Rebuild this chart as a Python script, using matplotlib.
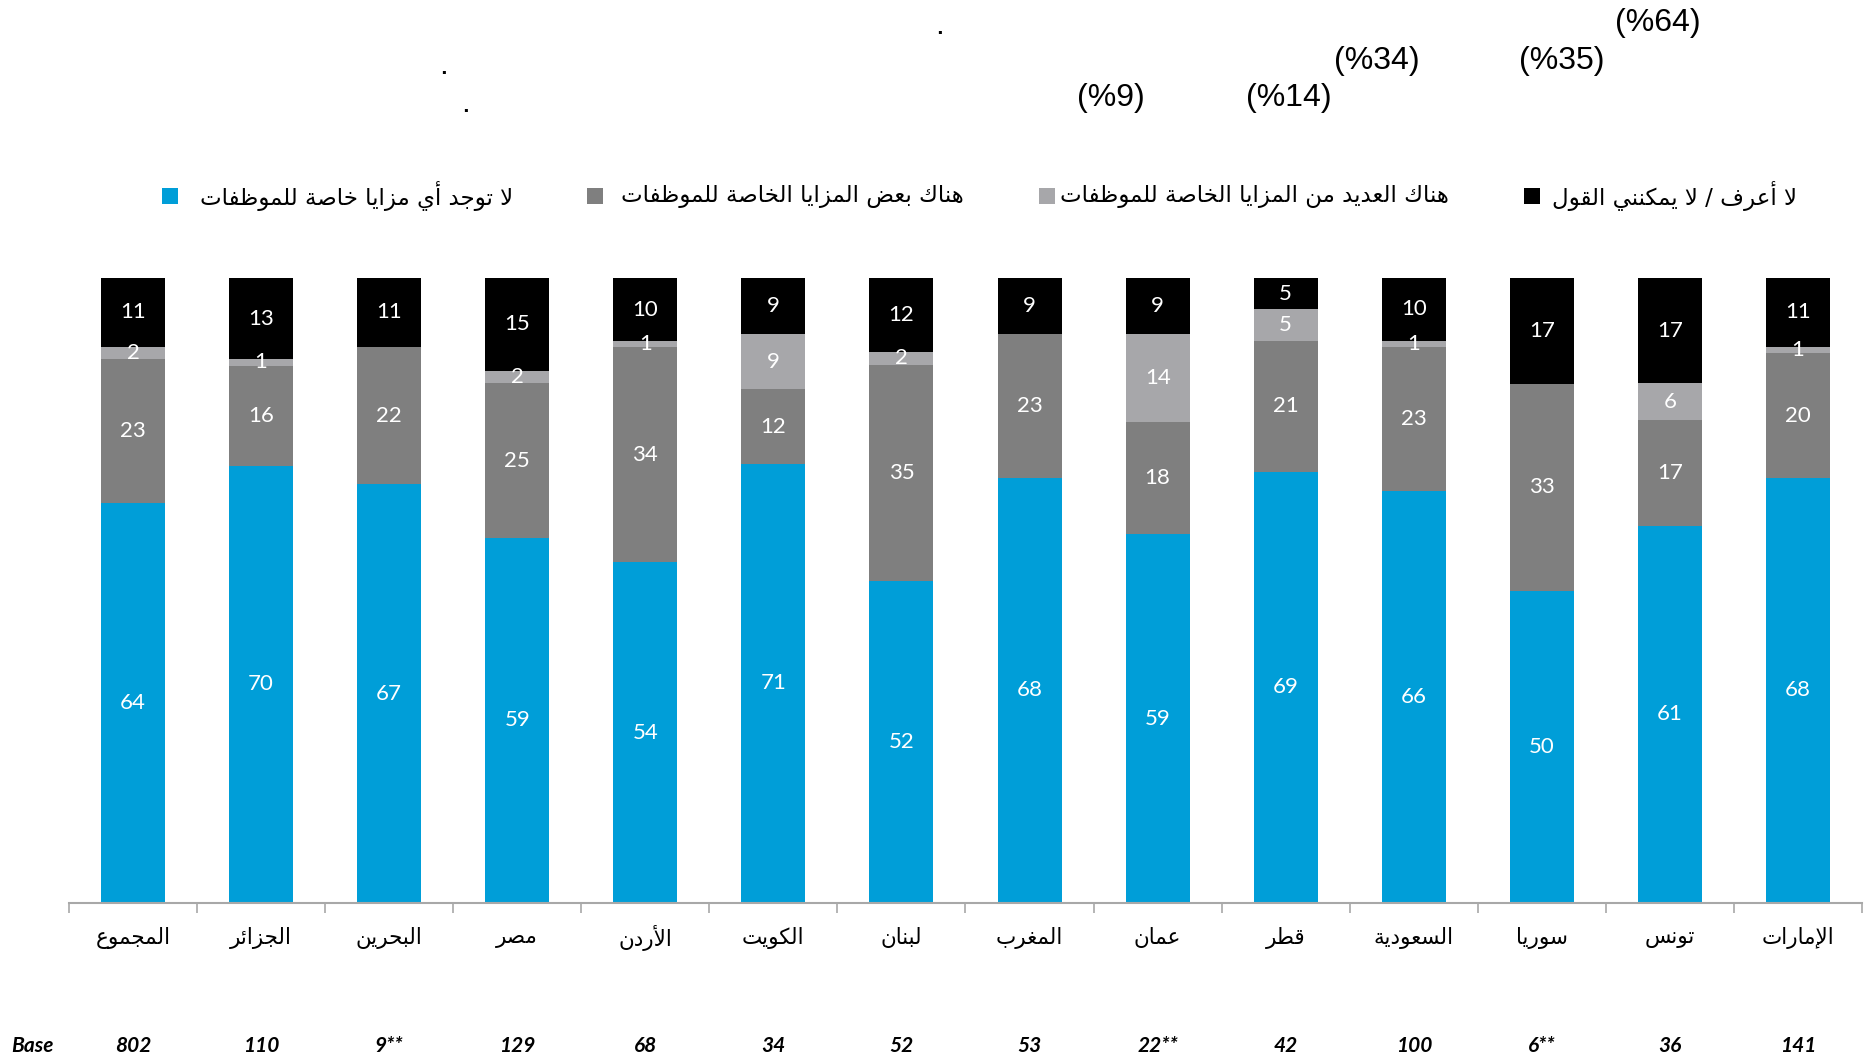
import matplotlib
matplotlib.use("Agg")
import matplotlib.pyplot as plt
from matplotlib.patches import Rectangle
import numpy as np

# ---------------- data ----------------
categories = ["المجموع", "الجزائر", "البحرين", "مصر", "الأردن", "الكويت", "لبنان",
              "المغرب", "عمان", "قطر", "السعودية", "سوريا", "تونس", "الإمارات"]
no_benefits = [64, 70, 67, 59, 54, 71, 52, 68, 59, 69, 66, 50, 61, 68]
some_benefits = [23, 16, 22, 25, 34, 12, 35, 23, 18, 21, 23, 33, 17, 20]
many_benefits = [2, 1, 0, 2, 1, 9, 2, 0, 14, 5, 1, 0, 6, 1]
dont_know = [11, 13, 11, 15, 10, 9, 12, 9, 9, 5, 10, 17, 17, 11]
bases = ["802", "110", "9**", "129", "68", "34", "52", "53", "22**", "42", "100", "6**", "36", "141"]
series_names = ["لا توجد أي مزايا خاصة للموظفات",
                "هناك بعض المزايا الخاصة للموظفات",
                "هناك العديد من المزايا الخاصة للموظفات",
                "لا أعرف / لا يمكنني القول"]
top_notes = ["(%64)", "(%35)", "(%34)", "(%14)", "(%9)", ".", ".", "."]

colors = ["#009ED8", "#7F7F7F", "#A7A7AA", "#000000"]

# ---------------- minimal Arabic shaping ----------------
FOUR = {'ئ': 0xFE89, 'ب': 0xFE8F, 'ت': 0xFE95, 'ث': 0xFE99, 'ج': 0xFE9D, 'ح': 0xFEA1,
        'خ': 0xFEA5, 'س': 0xFEB1, 'ش': 0xFEB5, 'ص': 0xFEB9, 'ض': 0xFEBD, 'ط': 0xFEC1,
        'ظ': 0xFEC5, 'ع': 0xFEC9, 'غ': 0xFECD, 'ف': 0xFED1, 'ق': 0xFED5, 'ك': 0xFED9,
        'ل': 0xFEDD, 'م': 0xFEE1, 'ن': 0xFEE5, 'ه': 0xFEE9, 'ي': 0xFEF1}
TWO = {'آ': 0xFE81, 'أ': 0xFE83, 'ؤ': 0xFE85, 'إ': 0xFE87, 'ا': 0xFE8D, 'ة': 0xFE93,
       'د': 0xFEA9, 'ذ': 0xFEAB, 'ر': 0xFEAD, 'ز': 0xFEAF, 'و': 0xFEED, 'ى': 0xFEEF}
ONE = {'ء': 0xFE80}
LAM_ALEF = {'ا': 0xFEFB, 'أ': 0xFEF7, 'إ': 0xFEF9, 'آ': 0xFEF5}


def shape(s):
    toks = []
    i = 0
    while i < len(s):
        if s[i] == 'ل' and i + 1 < len(s) and s[i + 1] in LAM_ALEF:
            toks.append(('LA', s[i + 1]))
            i += 2
        else:
            toks.append(s[i])
            i += 1

    def joins_left(t):  # can connect to previous char
        return isinstance(t, tuple) or t in FOUR or t in TWO

    def dual(t):
        return (not isinstance(t, tuple)) and t in FOUR

    out = []
    for k, t in enumerate(toks):
        prev = toks[k - 1] if k > 0 else None
        nxt = toks[k + 1] if k + 1 < len(toks) else None
        jp = prev is not None and dual(prev) and joins_left(t)
        jn = nxt is not None and dual(t) and joins_left(nxt)
        if isinstance(t, tuple):
            b = LAM_ALEF[t[1]]
            out.append(chr(b + (1 if jp else 0)))
        elif t in FOUR:
            b = FOUR[t]
            if jp and jn:
                out.append(chr(b + 3))
            elif jp:
                out.append(chr(b + 1))
            elif jn:
                out.append(chr(b + 2))
            else:
                out.append(chr(b))
        elif t in TWO:
            b = TWO[t]
            out.append(chr(b + (1 if jp else 0)))
        elif t in ONE:
            out.append(chr(ONE[t]))
        else:
            out.append(t)
    return "".join(out[::-1])


AR_FONT = ["DejaVu Sans"]

# ---------------- figure ----------------
W, H = 1870, 1062
fig = plt.figure(figsize=(W / 100, H / 100), dpi=100)
ax_l, ax_r, ax_b, ax_t = 69, 1862, 903, 278
ax = fig.add_axes([ax_l / W, 1 - ax_b / H, (ax_r - ax_l) / W, (ax_b - ax_t) / H])

data = np.array([no_benefits, some_benefits, many_benefits, dont_know], dtype=float)
totals = data.sum(axis=0)
norm = data / totals * 100
x = np.arange(len(categories))
bottom = np.zeros(len(categories))
for si in range(4):
    ax.bar(x, norm[si], 0.5, bottom=bottom, color=colors[si], edgecolor="none", zorder=2)
    for xi in range(len(categories)):
        v = data[si, xi]
        if v > 0:
            ax.text(x[xi], bottom[xi] + norm[si, xi] / 2, f"{int(v)}", ha="center", va="center",
                    color="white", fontsize=16, family="Lato", zorder=3)
    bottom += norm[si]

ax.set_xlim(-0.5, len(categories) - 0.5)
ax.set_ylim(0, 100)
for s in ["top", "left", "right"]:
    ax.spines[s].set_visible(False)
ax.spines["bottom"].set_color("#A8A8A8")
ax.spines["bottom"].set_linewidth(1.5)
ax.set_yticks([])
ax.set_xticks(x)
ax.set_xticklabels([])
ax.tick_params(axis="x", which="major", length=0)
ax.set_xticks(np.arange(-0.5, len(categories)), minor=True)
ax.tick_params(axis="x", which="minor", length=7, width=1.2, color="#A8A8A8", direction="out")

# category labels
trans = ax.get_xaxis_transform()
lab_y = (ax_b - 938) / (ax_b - ax_t)
for xi, c in enumerate(categories):
    ax.text(x[xi], lab_y, shape(c), ha="center", va="center", fontsize=15.5,
            family=AR_FONT, transform=trans, color="black")

# base row
base_y = 1 - 1046 / H
fig.text(32 / W, base_y, "Base", ha="center", va="center", fontsize=15, family="Lato",
         fontweight="bold", fontstyle="italic")
base_ax_y = (ax_b - 1046) / (ax_b - ax_t)
for xi, b in enumerate(bases):
    ax.text(x[xi], base_ax_y, b, ha="center", va="center", fontsize=15, family="Lato",
            fontweight="bold", fontstyle="italic", transform=trans)

# legend (manual, RTL)
leg_y = 196
leg_items = [(513, 162, 0), (964, 587, 1), (1449, 1039, 2), (1797, 1524, 3)]
for text_right, marker_left, si in leg_items:
    fig.text(text_right / W, 1 - leg_y / H, shape(series_names[si]), ha="right", va="center",
             fontsize=16.5, family=AR_FONT)
    fig.patches.append(Rectangle((marker_left / W, 1 - (leg_y + 8) / H), 16 / W, 16 / H,
                                 transform=fig.transFigure, facecolor=colors[si],
                                 edgecolor="none"))

# top notes
note_pos = [(1658, 23), (1562, 61), (1377, 61), (1289, 98), (1111, 98), (939, 26), (444, 66), (465, 104)]
for t, (px, py) in zip(top_notes, note_pos):
    fig.text(px / W, 1 - py / H, t, ha="center", va="center", fontsize=23, family="Liberation Sans")

fig.savefig("out.png", dpi=100)
